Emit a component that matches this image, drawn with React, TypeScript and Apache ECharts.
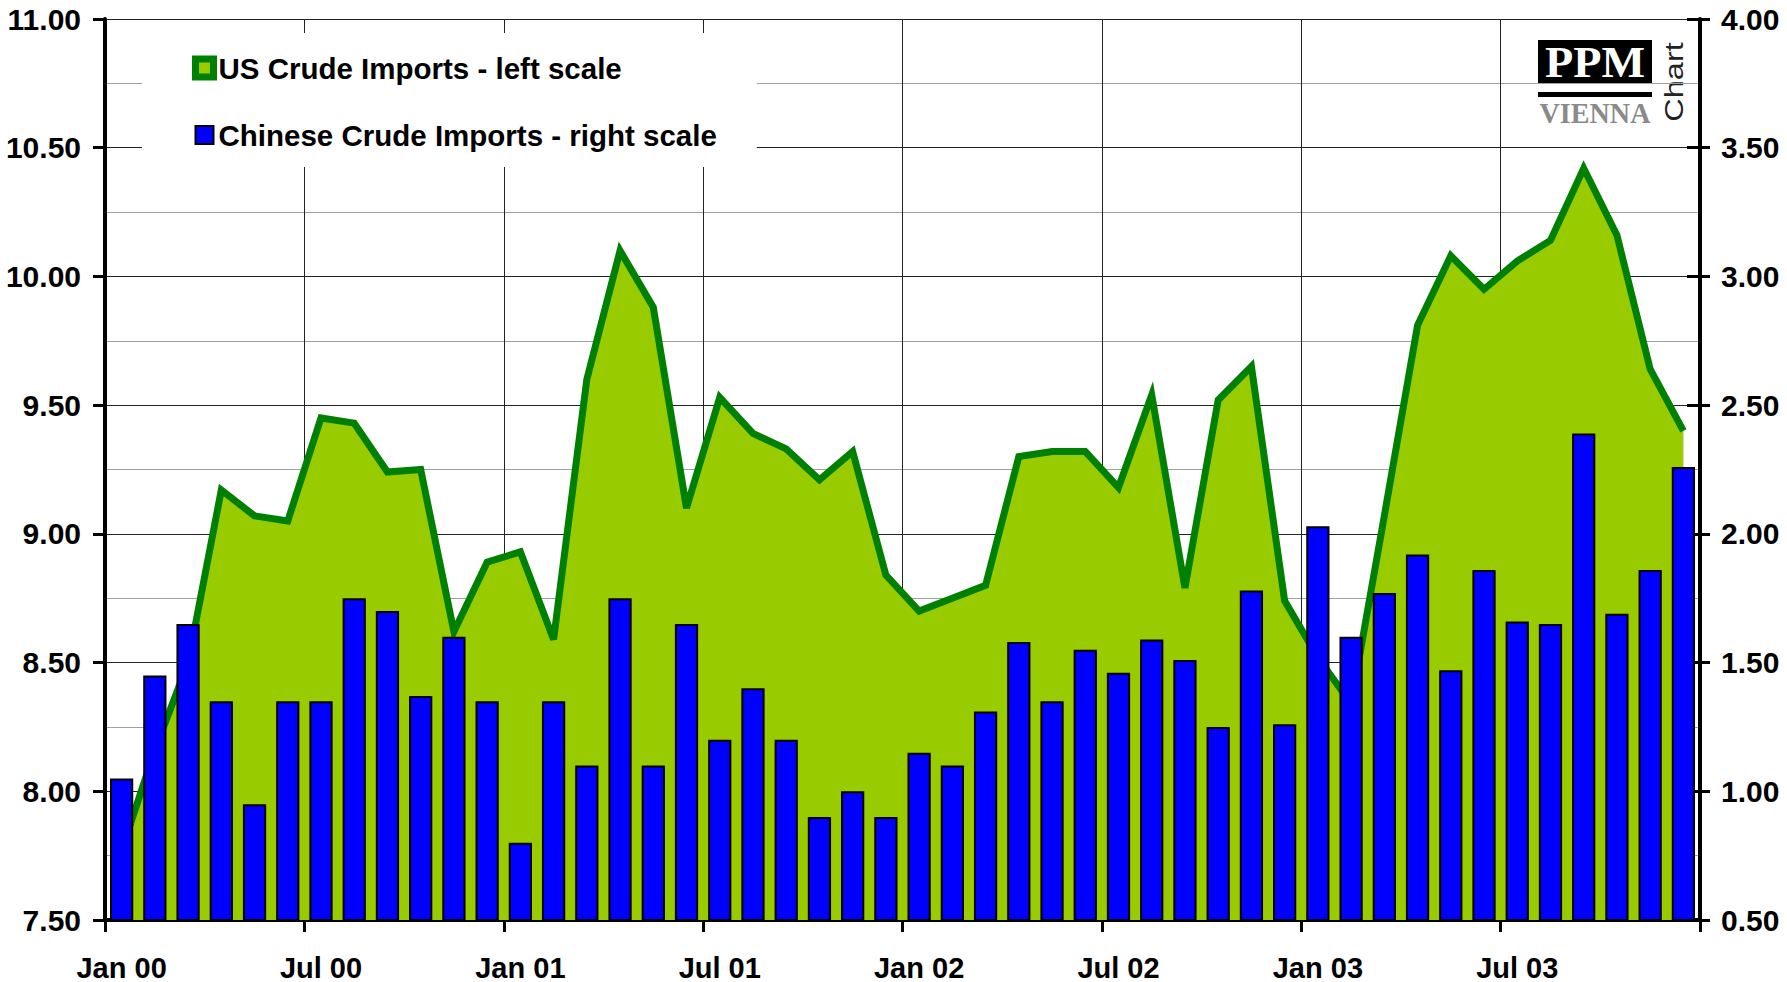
import React, { useEffect, useRef } from "react";
import * as echarts from "echarts";

const MONTHS = ["Jan", "Feb", "Mar", "Apr", "May", "Jun", "Jul", "Aug", "Sep", "Oct", "Nov", "Dec"];
const YEARS = ["00", "01", "02", "03"];
const categories: string[] = [];
YEARS.forEach((y) => MONTHS.forEach((m) => categories.push(`${m} ${y}`)));

// US crude imports (left scale)
const usImports = [
  7.77, 8.16, 8.5, 9.17, 9.07, 9.05, 9.45, 9.43, 9.24, 9.25,
  8.62, 8.89, 8.93, 8.59, 9.6, 10.1, 9.88, 9.1, 9.53, 9.39,
  9.33, 9.21, 9.32, 8.84, 8.7, 8.75, 8.8, 9.3, 9.32, 9.32,
  9.18, 9.54, 8.79, 9.52, 9.65, 8.74, 8.52, 8.34, 9.07, 9.81,
  10.08, 9.95, 10.06, 10.14, 10.42, 10.16, 9.64, 9.4,
];

// Chinese crude imports (right scale)
const chinaImports = [
  1.05, 1.45, 1.65, 1.35, 0.95, 1.35, 1.35, 1.75, 1.7, 1.37,
  1.6, 1.35, 0.8, 1.35, 1.1, 1.75, 1.1, 1.65, 1.2, 1.4,
  1.2, 0.9, 1.0, 0.9, 1.15, 1.1, 1.31, 1.58, 1.35, 1.55,
  1.46, 1.59, 1.51, 1.25, 1.78, 1.26, 2.03, 1.6, 1.77, 1.92,
  1.47, 1.86, 1.66, 1.65, 2.39, 1.69, 1.86, 2.26,
];

const US_NAME = "US Crude Imports - left scale";
const CN_NAME = "Chinese Crude Imports - right scale";

const FONT = "'Liberation Sans', Arial, Helvetica, sans-serif";

export default function App() {
  const ref = useRef<HTMLDivElement>(null);

  useEffect(() => {
    document.body.style.margin = "0";
    const chart = echarts.init(ref.current!, null, { renderer: "svg" });
    const labelStyle = {
      fontFamily: FONT,
      fontWeight: "bold" as const,
      fontSize: 29,
      color: "#000",
    };
    chart.setOption({
      animation: false,
      backgroundColor: "#fff",
      grid: { left: 105, right: 87, top: 19, bottom: 58, containLabel: false },
      legend: {
        orient: "vertical",
        left: 142,
        top: 33,
        padding: [20, 40, 17, 50],
        itemGap: 37,
        itemWidth: 18,
        itemHeight: 18,
        backgroundColor: "#fff",
        selectedMode: false,
        textStyle: { ...labelStyle, fontSize: 29.5 },
        data: [
          {
            name: US_NAME,
            icon: "rect",
            itemStyle: { color: "#99CC00", borderColor: "#008000", borderWidth: 7 },
          },
          {
            name: CN_NAME,
            icon: "rect",
            itemStyle: { color: "#0000FF", borderColor: "#000", borderWidth: 2 },
          },
        ],
        z: 10,
      },
      xAxis: {
        type: "category",
        data: categories,
        boundaryGap: true,
        axisLine: { show: true, lineStyle: { color: "#000", width: 4 } },
        axisTick: { show: true, interval: 5, length: 12, lineStyle: { color: "#000", width: 3 } },
        axisLabel: { ...labelStyle, interval: 5, margin: 33 },
        splitLine: { show: true, interval: 5, lineStyle: { color: "#222", width: 1 } },
      },
      yAxis: [
        {
          type: "value",
          position: "left",
          min: 7.5,
          max: 11,
          interval: 0.5,
          axisLine: { show: true, lineStyle: { color: "#000", width: 4 } },
          axisTick: { show: true, length: 12, lineStyle: { color: "#000", width: 3 } },
          axisLabel: { ...labelStyle, fontSize: 30, margin: 24, formatter: (v: number) => v.toFixed(2) },
          splitLine: { show: true, lineStyle: { color: "#222", width: 1 } },
          minorTick: { show: false, splitNumber: 2 },
          minorSplitLine: { show: true, lineStyle: { color: "#a0a0a0", width: 1 } },
        },
        {
          type: "value",
          position: "right",
          min: 0.5,
          max: 4,
          interval: 0.5,
          axisLine: { show: true, lineStyle: { color: "#000", width: 4 } },
          axisTick: { show: true, length: 10, lineStyle: { color: "#000", width: 3 } },
          axisLabel: { ...labelStyle, fontSize: 30, margin: 21, formatter: (v: number) => v.toFixed(2) },
          splitLine: { show: false },
        },
        {
          type: "value",
          position: "right",
          min: 0.5,
          max: 4,
          interval: 0.5,
          axisLine: { show: false },
          axisTick: { show: true, inside: true, length: 13, lineStyle: { color: "#000", width: 3 } },
          axisLabel: { show: false },
          splitLine: { show: false },
        },
      ],
      series: [
        {
          name: US_NAME,
          type: "line",
          yAxisIndex: 0,
          data: usImports,
          symbol: "none",
          color: "#008000",
          lineStyle: { color: "#008000", width: 7, join: "miter", miterLimit: 10 },
          areaStyle: { color: "#99CC00", opacity: 1 },
          z: 2,
        },
        {
          name: CN_NAME,
          type: "bar",
          yAxisIndex: 1,
          data: chinaImports,
          barCategoryGap: "30%",
          itemStyle: { color: "#0000FF", borderColor: "#000", borderWidth: 2 },
          z: 3,
        },
      ],
      graphic: [
        {
          type: "group",
          z: 20,
          children: [
            { type: "rect", shape: { x: 1528, y: 31, width: 162, height: 100 }, style: { fill: "#fff" } },
            { type: "rect", shape: { x: 1538, y: 40, width: 114, height: 43 }, style: { fill: "#000" } },
            {
              type: "text",
              x: 1595,
              y: 62,
              style: {
                text: "PPM",
                fill: "#fff",
                font: "bold 44px 'Liberation Serif', 'DejaVu Serif', serif",
                align: "center",
                verticalAlign: "middle",
                stroke: "#000",
                lineWidth: 1,
              },
              scaleX: 1.05,
            },
            { type: "rect", shape: { x: 1538, y: 92, width: 114, height: 5 }, style: { fill: "#000" } },
            {
              type: "text",
              x: 1595,
              y: 113,
              style: {
                text: "VIENNA",
                fill: "#8a8a8a",
                font: "bold 29px 'Liberation Serif', 'DejaVu Serif', serif",
                align: "center",
                verticalAlign: "middle",
              },
              scaleX: 0.97,
            },
            {
              type: "text",
              x: 1674,
              y: 82,
              rotation: Math.PI / 2,
              scaleX: 1.3,
              style: {
                text: "Chart",
                fill: "#222",
                font: "25px 'Liberation Sans', Arial, sans-serif",
                align: "center",
                verticalAlign: "middle",
              },
            },
          ],
        },
      ],
    });
    return () => chart.dispose();
  }, []);

  return (
    <div
      ref={ref}
      style={{ position: "absolute", left: 0, top: 0, width: 1787, height: 982 }}
    />
  );
}
